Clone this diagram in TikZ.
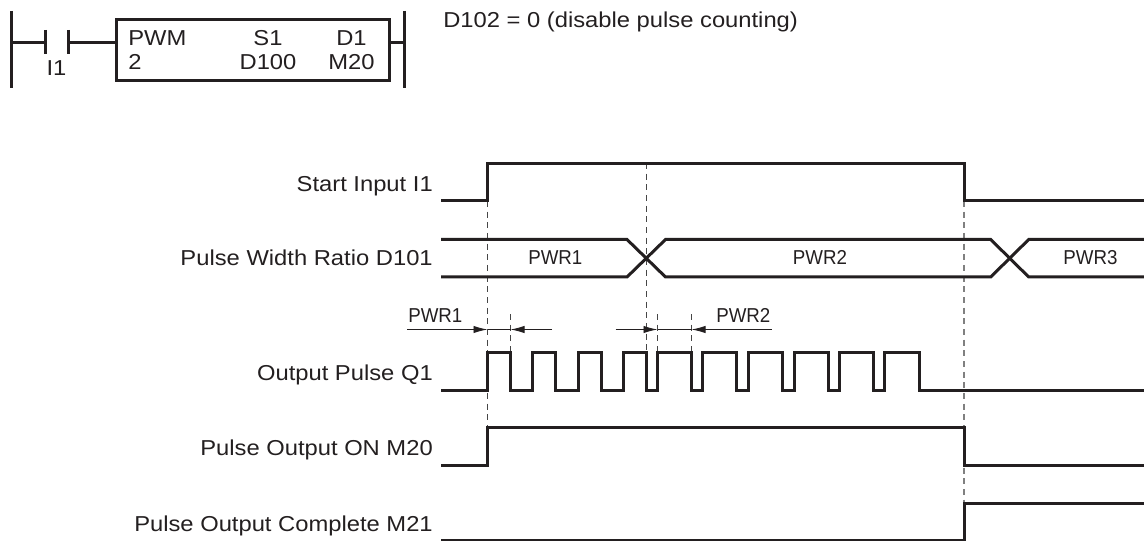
\documentclass[tikz,border=0pt]{standalone}
\usepackage{fontspec}
\setmainfont{Liberation Sans}
\newfontfamily\widefam[FakeStretch=1.1]{Liberation Sans}
\newfontfamily\narrowfam[FakeStretch=0.93]{Liberation Sans}
\usetikzlibrary{arrows.meta}
\definecolor{ink}{RGB}{35,31,32}
\definecolor{dashc}{RGB}{70,70,70}
\tikzset{
  x=0.75pt,y=-0.75pt,
  txt/.style={inner sep=0pt,text=ink,font=\widefam\fontsize{16.2pt}{18pt}\selectfont,anchor=base west},
  lbl/.style={txt,anchor=base east},
  ctr/.style={txt,anchor=base},
  pwr/.style={inner sep=0pt,text=ink,font=\narrowfam\fontsize{15.1pt}{18pt}\selectfont,anchor=base},
  wave/.style={draw=ink,line width=2.25pt,line join=miter,line cap=butt},
  ladder/.style={draw=ink,line width=2.1pt},
  guide/.style={draw=dashc,line width=0.8pt,dash pattern=on 4.5pt off 3.5pt},
  dim/.style={draw=ink,line width=0.7pt},
  tip/.style={-{Latex[length=10.5pt,width=5.5pt]}}
}
\begin{document}
\begin{tikzpicture}
\useasboundingbox (0,0) rectangle (1144,541);
% guides
\draw[guide] (487.5,201) -- (487.5,428);
\draw[guide] (646.5,163) -- (646.5,352);
\draw[guide] (510.5,314) -- (510.5,352);
\draw[guide] (657.5,314) -- (657.5,352);
\draw[guide] (691.5,314) -- (691.5,352);
\draw[guide,draw=gray] (964,201) -- (964,503);
% ladder
\draw[ladder] (11.5,11) -- (11.5,88.5);
\draw[ladder] (404.5,11) -- (404.5,88.5);
\draw[ladder] (45.5,30) -- (45.5,54.5);
\draw[ladder] (68.5,30) -- (68.5,54.5);
\coordinate (bnw) at (116.5,19.5);
\coordinate (bse) at (389.5,80.5);
\draw[ladder] (bnw) rectangle (bse);
\coordinate (lrail) at (11.5,42.5);
\coordinate (c1) at (45.5,42.5);
\coordinate (c2) at (68.5,42.5);
\coordinate (rrail) at (404.5,42.5);
\draw[ladder] (lrail) -- (c1);
\draw[ladder] (c2) -- (bnw |- c2);
\draw[ladder] (bse |- rrail) -- (rrail);
\node[ctr] (i1) at (56.5,75.3) {I1};
\node[txt] (pwm) at (128,45.7) {PWM};
\node[txt] (two) at (128,70) {2};
\node[ctr] (s1) at (268,45.7) {S1};
\node[ctr] (d100) at (268,70) {D100};
\node[ctr] (d1) at (351.5,45.7) {D1};
\node[ctr] (m20) at (351.5,70) {M20};
\node[txt] (note) at (443,28) {D102 = 0 (disable pulse counting)};
% labels
\node[lbl] (l1) at (433,191.7) {Start Input I1};
\node[lbl] (l2) at (433,266) {Pulse Width Ratio D101};
\node[lbl] (l3) at (433,380.7) {Output Pulse Q1};
\node[lbl] (l4) at (433,455.7) {Pulse Output ON M20};
\node[lbl] (l5) at (433,531) {Pulse Output Complete M21};
% waves
\draw[wave] (441,201) -- (487.5,201) -- (487.5,163.5) -- (964,163.5) -- (964,201) -- (1144,201);
\draw[wave] (441,239.5) -- (627,239.5) -- (665.5,277) -- (990.7,277) -- (1028.7,239.5) -- (1144,239.5);
\draw[wave] (441,277) -- (627,277) -- (665.5,239.5) -- (990.7,239.5) -- (1028.7,277) -- (1144,277);
\node[pwr] (p1) at (555.3,265) {PWR1};
\node[pwr] (p2) at (820,265) {PWR2};
\node[pwr] (p3) at (1090.5,265) {PWR3};
\draw[wave] (441,390) -- (487.5,390) -- (487.5,352) -- (510.5,352) -- (510.5,390) -- (532.5,390) -- (532.5,352) -- (555.5,352) -- (555.5,390) -- (578,390) -- (578,352) -- (601,352) -- (601,390) -- (623,390) -- (623,352) -- (646.5,352) -- (646.5,390) -- (657.5,390) -- (657.5,352) -- (691.5,352) -- (691.5,390) -- (702.5,390) -- (702.5,352) -- (736.5,352) -- (736.5,390) -- (748,390) -- (748,352) -- (782.5,352) -- (782.5,390) -- (794,390) -- (794,352) -- (828,352) -- (828,390) -- (839,390) -- (839,352) -- (873,352) -- (873,390) -- (884,390) -- (884,352) -- (919,352) -- (919,390) -- (1144,390);
\draw[wave] (441,465.5) -- (487.5,465.5) -- (487.5,427.5) -- (964,427.5) -- (964,465.5) -- (1144,465.5);
\draw[wave] (441,540) -- (964,540) -- (964,503) -- (1144,503);
% dimensions
\node[pwr,anchor=base west] (dl1) at (408,322.7) {PWR1};
\node[pwr,anchor=base west] (dl2) at (716,322.7) {PWR2};
\coordinate (a1) at (407,329.5);
\coordinate (a2) at (487.5,329.5);
\coordinate (a3) at (552,329.5);
\coordinate (a4) at (510.5,329.5);
\coordinate (b1) at (615.7,329.5);
\coordinate (b2) at (657.5,329.5);
\coordinate (b3) at (771.7,329.5);
\coordinate (b4) at (691.5,329.5);
\draw[dim,tip] (a1) -- (a2);
\draw[dim] (a2) -- (a4);
\draw[dim,tip] (a3) -- (a4);
\draw[dim,tip] (b1) -- (b2);
\draw[dim] (b2) -- (b4);
\draw[dim,tip] (b3) -- (b4);
\end{tikzpicture}
\end{document}
